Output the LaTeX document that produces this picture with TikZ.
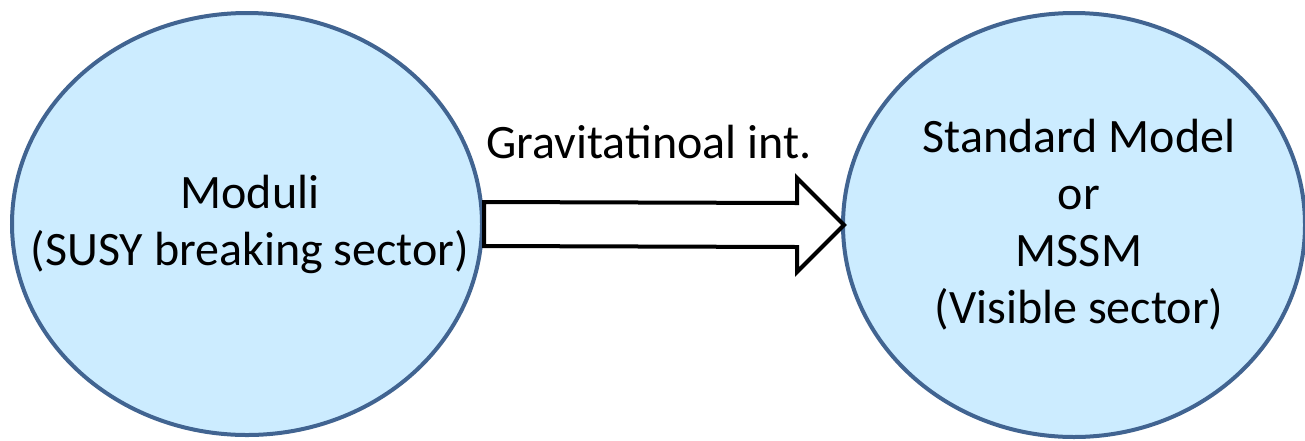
\documentclass[tikz,border=0pt]{standalone}
\usepackage{fontspec}
\setmainfont{Carlito}
\usetikzlibrary{shapes.geometric,calc}
\definecolor{sectorfill}{RGB}{204,236,255}
\definecolor{sectorline}{RGB}{65,100,145}
\begin{document}
\begin{tikzpicture}[x=0.5pt, y=-0.5pt,
    sector/.style={ellipse, draw=sectorline, fill=sectorfill, line width=2pt, inner sep=0pt},
    sectortext/.style={align=center, inner sep=0pt, font=\fontsize{24}{28.5}\selectfont},
    flowarrow/.style={draw=black, fill=white, line width=2pt, line join=miter},
    lbl/.style={font=\fontsize{24}{28.5}\selectfont, inner sep=0pt}]
    \useasboundingbox (0,0) rectangle (1305,440);

    \node[sector, minimum width=235pt, minimum height=211pt] (moduli) at (247,224) {};
    \node[sector, minimum width=231pt, minimum height=212pt] (visible) at (1074,225) {};
    \node[sectortext] (modulitext) at ($(moduli.center)+(3,0)$)
        {Moduli\\(SUSY breaking sector)};
    \node[sectortext] (visibletext) at ($(visible.center)+(5,0)$)
        {Standard Model\\or\\MSSM\\(Visible sector)};

    \coordinate (tip) at ($(visible.west)+(3,0)$);
    \draw[flowarrow] ($(moduli.east)+(0,-22)$) -- ($(tip)+(-47,-22)$)
        -- ($(tip)+(-47,-47)$) -- (tip) -- ($(tip)+(-47,47)$)
        -- ($(tip)+(-47,22)$) -- ($(moduli.east)+(0,22)$) -- cycle;

    \node[lbl, anchor=base] (gravlabel) at ($(moduli.east)+(165,-66)$) {Gravitatinoal int.};
\end{tikzpicture}
\end{document}
